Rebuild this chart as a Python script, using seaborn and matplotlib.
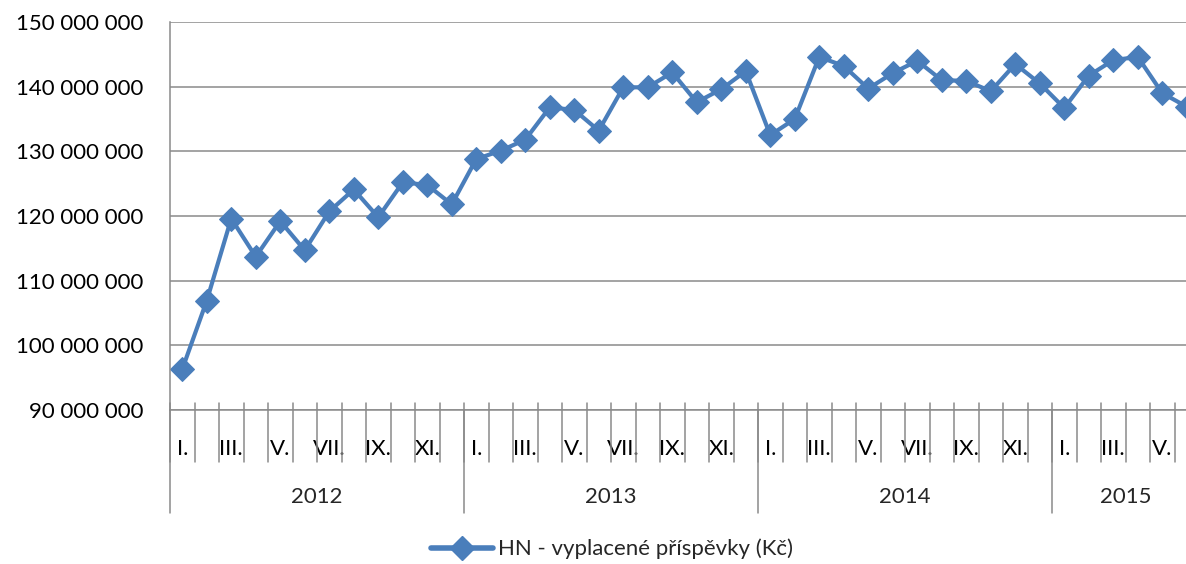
import numpy as np
import pandas as pd
import matplotlib
matplotlib.use("Agg")
import matplotlib.pyplot as plt
import matplotlib.ticker as mticker
from matplotlib.lines import Line2D
import seaborn as sns

# months I. 2012 .. VI. 2015
years = [2012, 2013, 2014, 2015]
month_labels = ["I.", "II.", "III.", "IV.", "V.", "VI.",
                "VII.", "VIII.", "IX.", "X.", "XI.", "XII."]
values = [
    96.3, 106.9, 119.6, 113.7, 119.2, 114.7, 120.7, 124.1, 119.8, 125.2, 124.8, 121.8,
    128.8, 130.1, 131.8, 136.8, 136.4, 133.2, 139.9, 139.9, 142.2, 137.6, 139.6, 142.4,
    132.5, 135.0, 144.6, 143.2, 139.7, 142.1, 144.0, 141.0, 140.9, 139.3, 143.5, 140.5,
    136.7, 141.7, 144.1, 144.6, 139.0, 136.9,
]
values = [v * 1e6 for v in values]
series_name = "HN - vyplacené příspěvky (Kč)"

n = len(values)
df = pd.DataFrame({"idx": np.arange(n), "value": values})

sns.set_style("white")
plt.rcParams["font.family"] = ["Lato", "DejaVu Sans"]

blue = "#4a7ebb"
grey = "#8a8a8a"
fs = 16

fig = plt.figure(figsize=(11.86, 5.64), dpi=100)
# plot area runs a little past the right edge, as in the cropped original
ax = fig.add_axes([170 / 1186, 1 - 410 / 564, 1029 / 1186, 388 / 564])

sns.lineplot(data=df, x="idx", y="value", ax=ax, color=blue, linewidth=3,
             marker="D", markersize=12, markeredgecolor=blue, legend=False)

ax.set_xlim(-0.5, n - 0.5)
ax.set_ylim(90e6, 150e6)
ax.yaxis.set_major_locator(mticker.MultipleLocator(10e6))
ax.yaxis.set_major_formatter(mticker.FuncFormatter(lambda v, p: f"{int(v):,}".replace(",", " ")))
ax.grid(axis="y", color=grey, linewidth=1.1)
ax.set_axisbelow(True)
for s in ["top", "right"]:
    ax.spines[s].set_visible(False)
for s in ["left", "bottom"]:
    ax.spines[s].set_color(grey)
    ax.spines[s].set_linewidth(1.1)
ax.tick_params(axis="y", length=0, pad=19, labelsize=fs, labelcolor="black")

# month labels (every other month)
ax.set_xticks(np.arange(n))
ax.set_xticklabels([month_labels[i % 12] if i % 2 == 0 else "" for i in range(n)])
ax.tick_params(axis="x", length=0, pad=21, labelsize=fs, labelcolor="black")
ax.set_xlabel("")
ax.set_ylabel("")

# category separators
trans = ax.get_xaxis_transform()
h_px = 388
for b in np.arange(n + 1) - 0.5:
    if b % 12 == 11.5 or b == -0.5:
        ax.plot([b, b], [0, -103 / h_px], transform=trans, color=grey,
                linewidth=1.1, clip_on=False)
    ax.plot([b, b], [7 / h_px, -52 / h_px], transform=trans, color=grey,
            linewidth=1.1, clip_on=False)

# year labels
for k, yr in enumerate(years):
    start = 12 * k - 0.5
    end = min(12 * k + 11.5, n - 0.5)
    ax.text((start + end) / 2, -87 / h_px, str(yr), transform=trans,
            ha="center", va="center", fontsize=fs)

handle = Line2D([], [], color=blue, linewidth=4, marker="D", markersize=12)
fig.legend([handle], [series_name], loc="center", bbox_to_anchor=(612 / 1186, 1 - 549 / 564),
           frameon=False, fontsize=fs, handlelength=2.8, handletextpad=0.2)

fig.savefig("out.png", dpi=100)
